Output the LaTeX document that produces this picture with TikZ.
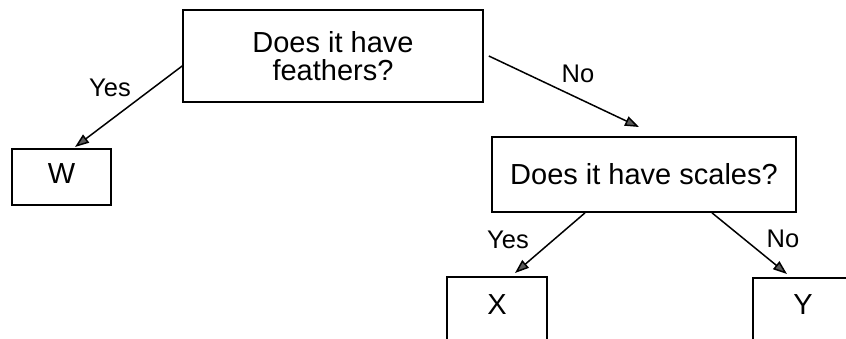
\documentclass[tikz,border=0pt]{standalone}
\usepackage{fontspec}
\setmainfont{Liberation Sans}
\usetikzlibrary{arrows.meta}
\tikzset{
  boxnode/.style={draw=black, line width=1.7pt, inner sep=0pt, align=center,
    font=\fontsize{29}{29}\selectfont},
  arr/.style={draw=black, line width=1.5pt, -{Triangle[length=14pt,width=10pt,fill=black!65]}},
  lbl/.style={font=\fontsize{25.5}{25.5}\selectfont, inner sep=0pt}
}
\begin{document}
\begin{tikzpicture}[x=1pt,y=-1pt]
\useasboundingbox (0,0) rectangle (846,338);
\clip (0,0) rectangle (846,338);
\node[boxnode, minimum width=300pt, minimum height=92pt] (top) at (333,56)
  {Does it have\\[-1pt]feathers?};
\node[boxnode, minimum width=99pt, minimum height=56pt, text height=16pt, text depth=4pt] (w) at (61.5,177) {W};
\node[boxnode, minimum width=304pt, minimum height=75pt] (scales) at (644,174.5) {Does it have scales?};
\node[boxnode, anchor=north, minimum width=100pt, text height=38pt, text depth=32pt] (x) at (497,276) {X};
\node[boxnode, anchor=north, minimum width=100pt, text height=37pt, text depth=32pt] (y) at (803,277) {Y};
\coordinate (yesA) at (75,147);
\coordinate (noA) at (639,127);
\coordinate (yesB) at (515,273);
\coordinate (noB) at (787,274);
\draw[arr] ([yshift=-10pt]top.west) -- (yesA);
\draw[arr] ([xshift=5pt]top.east) -- (noA);
\draw[arr] ([xshift=-59pt]scales.south) -- (yesB);
\draw[arr] ([xshift=68pt]scales.south) -- (noB);
\node[lbl] (l1) at (110,88) {Yes};
\node[lbl] (l2) at (578,74) {No};
\node[lbl] (l3) at (508,240) {Yes};
\node[lbl] (l4) at (783,239) {No};
\end{tikzpicture}
\end{document}
